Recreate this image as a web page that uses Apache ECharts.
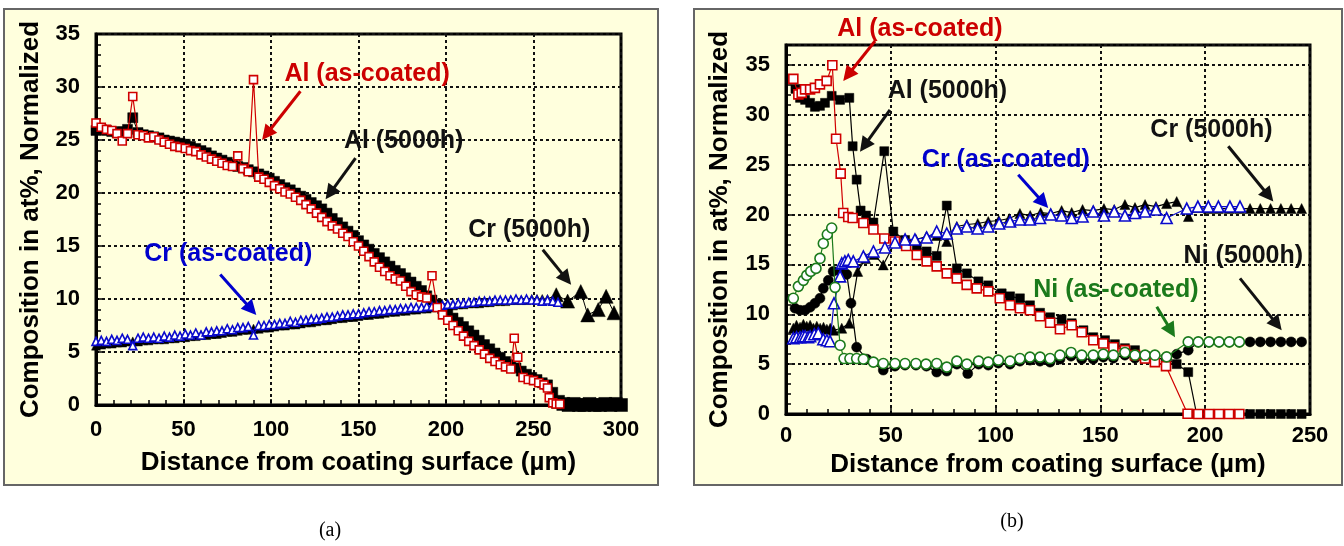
<!DOCTYPE html>
<html><head><meta charset="utf-8">
<script src="https://cdn.jsdelivr.net/npm/echarts@6/dist/echarts.min.js"></script>
<style>html,body{margin:0;padding:0;background:#fff}#c{width:1344px;height:546px}</style>
</head><body><div id="c"></div>
<script>
// ---------- Panel (a) data: [distance (µm), composition (at%)] ----------
const alAsCoatedA = [[0,26.6],[3,26.2],[6,26.0],[9,25.9],[12,25.6],[15,24.9],[18,25.6],[21,29.1],[24,25.5],[27,25.4],[30,25.2],[33,25.3],[36,25.0],[39,24.8],[42,24.6],[45,24.4],[48,24.3],[51,24.2],[54,24.0],[57,23.9],[60,23.6],[63,23.4],[66,23.2],[69,23.0],[72,22.8],[75,22.6],[78,22.5],[81,23.5],[84,22.3],[87,22.0],[90,30.7],[93,21.5],[96,21.3],[99,21.0],[102,20.7],[105,20.4],[108,20.1],[111,19.9],[114,19.6],[117,19.3],[120,18.9],[123,18.5],[126,18.1],[129,17.7],[132,17.3],[135,16.9],[138,16.6],[141,16.2],[144,15.9],[147,15.4],[150,15.0],[153,14.5],[156,14.0],[159,13.5],[162,13.0],[165,12.6],[168,12.2],[171,11.9],[174,11.7],[177,11.2],[180,10.7],[183,10.4],[186,10.2],[189,10.1],[192,12.2],[195,9.2],[198,8.5],[201,8.0],[204,7.5],[207,7.0],[210,6.5],[213,6.0],[216,5.6],[219,5.2],[222,4.8],[225,4.4],[228,4.1],[231,3.8],[234,3.6],[237,3.4],[239,6.3],[241,4.5],[244,2.6],[247,2.4],[250,2.3],[253,2.1],[256,1.9],[258,1.6],[259,0.7],[261,0.2],[263,0.1],[265,0.1]];
const al5000A = [[0,25.9],[3,26.0],[6,25.9],[9,25.8],[12,25.7],[15,25.8],[18,26.0],[21,27.1],[24,25.7],[27,25.5],[30,25.4],[33,25.3],[36,25.2],[39,25.0],[42,24.9],[45,24.8],[48,24.7],[51,24.6],[54,24.4],[57,24.2],[60,24.0],[63,23.8],[66,23.5],[69,23.3],[72,23.1],[75,22.9],[78,22.7],[81,22.5],[84,22.4],[87,22.2],[90,22.0],[93,21.8],[96,21.6],[99,21.4],[102,21.1],[105,20.8],[108,20.5],[111,20.3],[114,20.0],[117,19.7],[120,19.4],[123,19.1],[126,18.8],[129,18.5],[132,18.1],[135,17.6],[138,17.2],[141,16.8],[144,16.4],[147,16.0],[150,15.5],[153,15.1],[156,14.7],[159,14.3],[162,13.9],[165,13.5],[168,13.1],[171,12.7],[174,12.4],[177,12.0],[180,11.6],[183,11.2],[186,10.8],[189,10.3],[192,9.9],[195,9.5],[198,9.1],[201,8.7],[204,8.2],[207,7.8],[210,7.4],[213,7.0],[216,6.6],[219,6.1],[222,5.7],[225,5.3],[228,4.9],[231,4.5],[234,4.1],[237,3.8],[240,3.5],[243,3.2],[246,2.9],[249,2.6],[252,2.4],[255,2.1],[258,1.9],[261,1.2],[264,0.3],[267,0.1],[270,0],[273,0.1],[276,0],[279,0],[282,0.1],[285,0],[288,0],[291,0.1],[294,0],[297,0.1],[300,0]];
const crAsCoatedA = [[0,6.0],[3,6.1],[6,6.0],[9,6.2],[12,6.1],[15,6.3],[18,6.2],[21,5.6],[24,6.3],[27,6.4],[30,6.3],[33,6.4],[36,6.3],[39,6.5],[42,6.4],[45,6.6],[48,6.5],[51,6.7],[54,6.6],[57,6.8],[60,6.6],[63,6.9],[66,6.9],[69,7.0],[72,7.0],[75,7.2],[78,7.1],[81,7.3],[84,7.3],[87,7.4],[90,6.6],[93,7.5],[96,7.5],[99,7.6],[102,7.6],[105,7.7],[108,7.7],[111,7.9],[114,7.8],[117,8.0],[120,8.0],[123,8.1],[126,8.1],[129,8.2],[132,8.3],[135,8.3],[138,8.4],[141,8.5],[144,8.5],[147,8.6],[150,8.6],[153,8.7],[156,8.8],[159,8.8],[162,8.9],[165,8.9],[168,9.0],[171,9.0],[174,9.1],[177,9.1],[180,9.2],[183,9.2],[186,9.2],[189,9.3],[192,9.3],[195,9.3],[198,9.4],[201,9.5],[204,9.5],[207,9.6],[210,9.6],[213,9.7],[216,9.7],[219,9.8],[222,9.8],[225,9.8],[228,9.9],[231,9.9],[234,9.9],[237,9.9],[240,10.0],[243,9.9],[246,10.0],[249,9.9],[252,9.9],[255,9.8],[258,9.9],[261,9.8],[264,9.7]];
const cr5000A = [[0,5.6],[3,5.7],[6,5.8],[9,5.8],[12,5.9],[15,5.9],[18,6.0],[21,6.0],[24,6.0],[27,6.1],[30,6.1],[33,6.2],[36,6.2],[39,6.2],[42,6.3],[45,6.3],[48,6.4],[51,6.4],[54,6.5],[57,6.5],[60,6.6],[63,6.6],[66,6.7],[69,6.7],[72,6.8],[75,6.9],[78,6.9],[81,7.0],[84,7.1],[87,7.1],[90,7.2],[93,7.2],[96,7.3],[99,7.3],[102,7.4],[105,7.5],[108,7.5],[111,7.6],[114,7.6],[117,7.7],[120,7.8],[123,7.8],[126,7.9],[129,8.0],[132,8.0],[135,8.1],[138,8.2],[141,8.2],[144,8.3],[147,8.3],[150,8.4],[153,8.5],[156,8.5],[159,8.6],[162,8.6],[165,8.7],[168,8.8],[171,8.8],[174,8.9],[177,8.9],[180,9.0],[183,9.0],[186,9.1],[189,9.1],[192,9.2],[195,9.3],[198,9.3],[201,9.4],[204,9.4],[207,9.5],[210,9.5],[213,9.6],[216,9.6],[219,9.6],[222,9.7],[225,9.7],[228,9.8],[231,9.8],[234,9.8],[237,9.9],[240,9.9],[243,9.9],[246,9.9],[249,10.0],[252,10.0],[255,10.0],[258,10.0],[263,10.4],[269.5,9.8],[277,10.7],[281,8.5],[287,9.0],[291.5,10.25],[296,8.7]];

// ---------- Panel (b) data ----------
const alAsCoatedB = [[3.5,33.6],[5.9,32.05],[7.5,32.2],[9.1,32.55],[11.5,32.55],[13.8,32.7],[16.2,33.05],[19.4,33.4],[22.1,34.97],[23.9,27.6],[26.1,24.1],[27.3,20.15],[29.7,19.75],[31.8,19.65],[36.9,19.15],[41.7,18.5],[46.9,17.6],[52,17.3],[57.3,16.85],[62.4,15.95],[67.1,15.3],[71.9,14.8],[76.7,14.1],[81.5,13.6],[86.2,12.95],[91,12.6],[96.5,12.3],[102,11.6],[106.9,10.9],[111.6,10.6],[116.4,10.4],[121.2,9.8],[126,9.15],[130.7,8.5],[136.3,8.9],[141.1,8.2],[146.6,7.4],[151.4,7.07],[156.2,6.7],[161.7,6.4],[166.5,5.9],[171.3,5.56],[176,5.2],[181.3,4.8],[191.6,0.03],[196.7,0],[201.8,0],[206.6,0],[211.4,0],[216.3,0]];
const al5000B = [[4.5,32.6],[6.7,31.7],[9.1,31.5],[11.5,31.2],[13.8,30.8],[16.2,30.9],[18.6,31.2],[21.8,31.9],[25.8,31.5],[30.2,31.7],[31.8,26.85],[33.7,23.5],[35.6,20.4],[38.2,19.9],[41.7,19.2],[46.9,26.35],[51.2,18.3],[56.8,17.45],[62.4,16.8],[67.1,16.3],[71.9,15.85],[76.7,20.9],[81.5,14.6],[86.3,14.1],[91.8,13.3],[96.5,12.9],[102.9,12.1],[106.9,11.8],[111.6,11.6],[116.4,10.9],[121.2,10.15],[126,9.7],[131.5,9.5],[136.3,9.1],[141.9,8.4],[146.6,7.7],[152.2,7.4],[156.9,7.0],[161.7,6.6],[166.5,6.4],[171.3,5.8],[176,5.6],[181.3,5.5],[186.4,5.0],[191.9,4.2],[195.9,0],[201,0],[206,0],[211,0],[216,0],[221.4,0],[226.3,0],[231.2,0],[236.1,0],[241,0],[246,0]];
const crAsCoatedB = [[3.5,7.6],[5,7.7],[6.7,7.7],[8,7.8],[9.1,7.8],[10.5,7.7],[11.5,7.8],[13.5,8.0],[15.4,8.1],[17.8,7.5],[19.5,7.4],[21,7.3],[22.9,11.1],[25.8,13.8],[26.6,15.1],[28.1,15.3],[29.7,15.45],[32.1,15.3],[36.9,15.8],[41.7,16.3],[47.2,16.7],[52,17.2],[56.8,17.5],[61.5,17.5],[67.1,17.7],[71.9,18.3],[76.7,18.1],[81.5,18.6],[86.2,18.8],[91.4,18.6],[96.5,18.8],[101.7,19.1],[106.9,19.3],[111.6,19.5],[116.4,19.5],[121.2,19.65],[126.3,20.0],[131.5,19.9],[136.3,19.65],[141.5,19.8],[146.6,20.3],[151.7,19.9],[156.6,20.3],[161.7,19.9],[166.5,20.15],[171.3,20.3],[176.5,20.5],[181.6,19.65],[191.2,20.6],[196.5,20.8],[201.5,20.8],[206.3,20.8],[211.8,20.8],[216.6,20.8]];
const cr5000B = [[3.5,8.6],[5,8.9],[6.7,8.7],[8.3,9.0],[9.9,8.8],[11.5,8.9],[13.1,8.6],[14.7,8.8],[16.3,8.6],[17.9,8.7],[19.5,8.5],[21.1,8.6],[22.7,8.4],[26.6,8.6],[30.2,9.1],[34.2,14.3],[38,15.6],[42,16.0],[46.4,14.95],[52,17.2],[56.8,17.3],[62,17.5],[67,17.8],[71.9,17.9],[76.7,17.3],[81.5,18.8],[86.3,19.0],[91.5,19.1],[96.5,19.3],[101.5,19.4],[106.5,19.6],[111.6,20.1],[116.5,19.9],[121.5,20.2],[126.3,20.1],[131.5,20.4],[136.3,20.2],[141.5,20.5],[146.6,20.4],[151.7,20.6],[156.6,20.5],[161.7,21.0],[166.5,20.7],[171.3,21.0],[176.5,20.8],[181.6,21.1],[186.4,21.3],[192,19.8],[196.5,20.7],[201.5,20.6],[206.3,20.6],[211.5,20.6],[216.5,20.6],[221.4,20.6],[226.3,20.6],[231.2,20.6],[236.1,20.6],[241,20.6],[246,20.6]];
const niAsCoatedB = [[3.5,11.6],[5.9,12.8],[8.3,13.4],[9.9,13.9],[11.8,14.3],[14.3,14.6],[16.2,15.6],[17.8,17.1],[19.7,18.0],[21.8,18.65],[23.4,12.7],[25.8,6.9],[27.7,5.56],[30.5,5.56],[33.7,5.56],[36.9,5.5],[41.7,5.2],[46.4,5.06],[52,5.06],[56.8,5.06],[62,5.06],[66.8,5.0],[71.9,5.06],[76.7,4.7],[81.5,5.3],[86.3,5.0],[91.9,5.3],[96.5,5.2],[101.3,5.4],[106.9,5.3],[111.6,5.56],[116.4,5.7],[121.2,5.7],[126,5.56],[130.7,5.9],[136,6.17],[141.1,5.9],[146.6,5.9],[151.4,6.0],[156.2,5.9],[161.7,6.17],[166.5,5.9],[171.3,5.9],[176,5.9],[181.6,5.73],[191.9,7.23],[196.7,7.23],[201.8,7.23],[206.6,7.23],[211.5,7.23],[216.3,7.23]];
const ni5000B = [[4.3,10.6],[6.7,10.4],[9.1,10.4],[11.5,10.7],[13.8,11.1],[16.2,11.6],[17.8,12.6],[20.2,13.4],[22.5,14.3],[26.6,14.1],[29,14.0],[31,11.1],[33.7,6.7],[38.5,5.5],[46.4,4.4],[52,4.8],[56.8,4.9],[62,4.9],[67,4.8],[71.9,4.2],[76.7,4.3],[81.5,5.0],[86.7,4.05],[91.9,5.0],[96.5,4.9],[101.3,5.1],[106.9,5.0],[111.6,5.3],[116.4,5.4],[121.2,5.3],[126,5.2],[130.7,5.5],[136,5.8],[141.1,5.5],[146.6,5.5],[151.4,5.7],[156.2,5.6],[161.7,5.9],[166.5,5.6],[171.3,5.6],[176,5.6],[181.6,5.5],[186.4,6.0],[191.9,6.4],[196.7,7.2],[201.8,7.2],[206.6,7.2],[211.5,7.2],[216.3,7.2],[221.4,7.23],[226.3,7.23],[231.2,7.23],[236.1,7.23],[241,7.23],[246,7.23]];

// ---------- Text ----------
const xTitle = 'Distance from coating surface (µm)';
const yTitle = 'Composition in at%, Normalized';
// annotations: [text, x, y, colour] in data units
const notesA = [['Al (as-coated)',154.9,31.2,'#CC0000'],['Al (5000h)',175.8,24.9,'#111'],['Cr (5000h)',247.6,16.5,'#111'],['Cr (as-coated)',75.6,14.2,'#0000CC']];
const arrowsA = [[116.8,29.6,94.9,25.0,'#CC0000'],[148.3,23.3,131.2,19.4,'#111'],[255.3,14.65,271.5,11.35,'#111'],[71.0,12.3,91.6,8.5,'#0000CC']];
const notesB = [['Al (as-coated)',63.9,38.6,'#CC0000'],['Al (5000h)',77.0,32.4,'#111'],['Cr (as-coated)',104.9,25.5,'#0000CC'],['Cr (5000h)',203.0,28.5,'#111'],['Ni (5000h)',218.2,15.8,'#111'],['Ni (as-coated)',157.4,12.4,'#1B7A1B']];
const arrowsB = [[42.5,37.4,27.3,33.4,'#CC0000'],[49.6,30.5,35.3,26.3,'#111'],[110.8,24.0,125.1,20.65,'#0000CC'],[211.0,26.85,232.5,21.3,'#111'],[216.6,13.6,236.5,8.4,'#111'],[176.9,10.75,185.6,7.7,'#1B7A1B']];

const FONT = '"Liberation Sans", Arial, sans-serif';
const RED = '#D00000', BLUE = '#0A0ACC', GREEN = '#1B7A1B', BLK = '#000';

function ser(name, data, g, sym, size, color, open, z, lw) {
  return {
    type: 'line', name, data, xAxisIndex: g, yAxisIndex: g,
    symbol: sym, symbolSize: size, showSymbol: true,
    lineStyle: { color: color, width: lw === undefined ? 1.2 : lw },
    itemStyle: { color: open ? '#fff' : color, borderColor: color, borderWidth: open ? 1.6 : 0.5 },
    z: z, animation: false, emphasis: { disabled: true }, silent: true, clip: false
  };
}
function xAx(g, max, gap, margin) {
  return {
    type: 'value', gridIndex: g, min: 0, max: max, interval: 50,
    name: xTitle, nameLocation: 'middle', nameGap: gap,
    nameTextStyle: { fontFamily: FONT, fontWeight: 'bold', fontSize: 26, color: '#000' },
    axisLine: { show: true, onZero: false, lineStyle: { color: '#000', width: 3 } },
    axisTick: { show: true, inside: true, length: 6, lineStyle: { color: '#000', width: 1.5 } },
    minorTick: { show: true, splitNumber: 5, length: 5, lineStyle: { color: '#000', width: 1.5 } },
    splitLine: { show: true, lineStyle: { color: '#111', width: 2, type: [3, 3] } },
    axisLabel: { fontFamily: FONT, fontWeight: 'bold', fontSize: 22, color: '#000', margin: margin }
  };
}
function yAx(g, max, gap) {
  return {
    type: 'value', gridIndex: g, min: 0, max: max, interval: 5,
    name: yTitle, nameLocation: 'middle', nameGap: gap, nameRotate: 90,
    nameTextStyle: { fontFamily: FONT, fontWeight: 'bold', fontSize: 26, color: '#000' },
    axisLine: { show: true, onZero: false, lineStyle: { color: '#000', width: 3 } },
    axisTick: { show: true, inside: true, length: 6, lineStyle: { color: '#000', width: 1.5 } },
    minorTick: { show: true, splitNumber: 5, length: 5, lineStyle: { color: '#000', width: 1.5 } },
    splitLine: { show: true, lineStyle: { color: '#111', width: 2, type: [3, 3] } },
    axisLabel: { fontFamily: FONT, fontWeight: 'bold', fontSize: 22, color: '#000', margin: 16,
      formatter: function (v) { return v % 5 === 0 ? String(v) : ''; } }
  };
}

const chart = echarts.init(document.getElementById('c'), null, { renderer: 'canvas' });
const bigSq = function (v) { return v[0] > 261 ? 13 : 10; };
const bigTri = function (v) { return v[0] > 261 ? 14 : 9; };
chart.setOption({
  animation: false,
  backgroundColor: '#fff',
  grid: [
    { left: 96, top: 34, width: 525, height: 371, show: true, backgroundColor: '#FFFFDD', borderColor: '#000', borderWidth: 3 },
    { left: 786, top: 45, width: 524, height: 369, show: true, backgroundColor: '#FFFFDD', borderColor: '#000', borderWidth: 3 }
  ],
  xAxis: [xAx(0, 300, 45, 14), xAx(1, 250, 32, 11)],
  yAxis: [yAx(0, 35, 52), yAx(1, 37, 53)],
  series: [
    ser('Al (5000h)', al5000A, 0, 'rect', bigSq, BLK, false, 2, 1),
    ser('Cr (5000h)', cr5000A, 0, 'triangle', bigTri, BLK, false, 2, 1),
    ser('Cr (as-coated)', crAsCoatedA, 0, 'triangle', 8, BLUE, true, 3, 1),
    ser('Al (as-coated)', alAsCoatedA, 0, 'rect', 8, RED, true, 4, 1.2),
    ser('Al (5000h)', al5000B, 1, 'rect', 9, BLK, false, 2),
    ser('Cr (5000h)', cr5000B, 1, 'triangle', 10, BLK, false, 2),
    ser('Ni (5000h)', ni5000B, 1, 'circle', 10, BLK, false, 2),
    ser('Al (as-coated)', alAsCoatedB, 1, 'rect', 9, RED, true, 3),
    ser('Cr (as-coated)', crAsCoatedB, 1, 'triangle', 11, BLUE, true, 3),
    ser('Ni (as-coated)', niAsCoatedB, 1, 'circle', 10, GREEN, true, 4)
  ]
});

function arrow(p1, p2, color) {
  const dx = p2[0] - p1[0], dy = p2[1] - p1[1], L = Math.hypot(dx, dy), ux = dx / L, uy = dy / L;
  const hl = 15, hw = 7.5;
  const bx = p2[0] - ux * hl, by = p2[1] - uy * hl;
  return [
    { type: 'line', shape: { x1: p1[0], y1: p1[1], x2: bx + ux * 2, y2: by + uy * 2 }, style: { stroke: color, lineWidth: 3 }, z: 100 },
    { type: 'polygon', shape: { points: [[p2[0], p2[1]], [bx - uy * hw, by + ux * hw], [bx + uy * hw, by - ux * hw]] }, style: { fill: color }, z: 100 }
  ];
}
const g = [
  { type: 'rect', shape: { x: 4, y: 9, width: 654, height: 476 }, style: { fill: '#FFFFDD', stroke: '#666', lineWidth: 2 }, z: -10, silent: true },
  { type: 'rect', shape: { x: 694, y: 9, width: 648, height: 476 }, style: { fill: '#FFFFDD', stroke: '#666', lineWidth: 2 }, z: -10, silent: true },
  { type: 'text', x: 330, y: 531, style: { text: '(a)', font: '20px "Liberation Serif", "Times New Roman", serif', fill: '#000', align: 'center', verticalAlign: 'middle' }, z: 100 },
  { type: 'text', x: 1012, y: 522, style: { text: '(b)', font: '20px "Liberation Serif", "Times New Roman", serif', fill: '#000', align: 'center', verticalAlign: 'middle' }, z: 100 }
];
[[notesA, arrowsA, 0], [notesB, arrowsB, 1]].forEach(function (set) {
  const gi = set[2];
  set[0].forEach(function (n) {
    const p = chart.convertToPixel({ gridIndex: gi }, [n[1], n[2]]);
    g.push({ type: 'text', x: p[0], y: p[1], style: { text: n[0], font: 'bold 25px ' + FONT, fill: n[3], align: 'center', verticalAlign: 'middle' }, z: 100 });
  });
  set[1].forEach(function (a) {
    const p1 = chart.convertToPixel({ gridIndex: gi }, [a[0], a[1]]);
    const p2 = chart.convertToPixel({ gridIndex: gi }, [a[2], a[3]]);
    arrow(p1, p2, a[4]).forEach(function (e) { g.push(e); });
  });
});
chart.setOption({ graphic: g });
</script></body></html>
